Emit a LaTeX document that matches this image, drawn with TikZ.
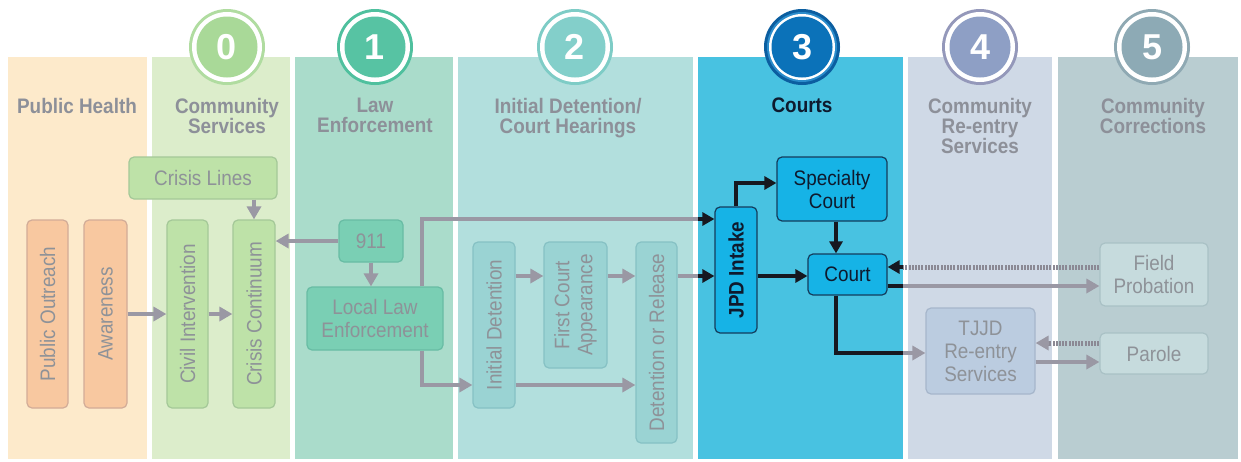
\documentclass[tikz,border=0pt]{standalone}
\usepackage{fontspec}
\setmainfont{Liberation Sans}[FakeStretch=0.9]
\newfontfamily\numfont{Liberation Sans}
\usetikzlibrary{arrows.meta,calc}
\definecolor{colPH}{HTML}{FDEACB}
\definecolor{colCS}{HTML}{DCEDCB}
\definecolor{colLE}{HTML}{AADCCB}
\definecolor{colID}{HTML}{B2DFDD}
\definecolor{colCT}{HTML}{48C2E1}
\definecolor{colRE}{HTML}{CFD9E6}
\definecolor{colCC}{HTML}{B9CDD1}
\definecolor{phfill}{HTML}{F8C8A0}
\definecolor{phdraw}{HTML}{D2AC98}
\definecolor{csfill}{HTML}{BEE2A8}
\definecolor{csdraw}{HTML}{A4C898}
\definecolor{lefill}{HTML}{7ACFB4}
\definecolor{ledraw}{HTML}{68BCA4}
\definecolor{idfill}{HTML}{9AD3D3}
\definecolor{iddraw}{HTML}{86C1C4}
\definecolor{ctfill}{HTML}{16B3E6}
\definecolor{ctdraw}{HTML}{143C5C}
\definecolor{refill}{HTML}{BBCCE0}
\definecolor{redraw}{HTML}{A6B6CB}
\definecolor{ccfill}{HTML}{C6DBDD}
\definecolor{ccdraw}{HTML}{A9C1C5}
\definecolor{txtgray}{HTML}{8E9298}
\definecolor{headgray}{HTML}{8D9099}
\definecolor{courtdark}{HTML}{0E1A2E}
\definecolor{arrgray}{HTML}{9A98A4}
\definecolor{arrblack}{HTML}{161820}
\definecolor{ring0}{HTML}{B0DCA0}\definecolor{in0}{HTML}{A9D998}
\definecolor{ring1}{HTML}{4FC09E}\definecolor{in1}{HTML}{57C3A3}
\definecolor{ring2}{HTML}{7ECCC6}\definecolor{in2}{HTML}{83CFCA}
\definecolor{ring3}{HTML}{0B5EA0}\definecolor{band3}{HTML}{2A8CCB}\definecolor{in3}{HTML}{0B72B9}
\definecolor{ring4}{HTML}{9498BA}\definecolor{in4}{HTML}{8E9FC5}
\definecolor{ring5}{HTML}{8FA9B3}\definecolor{in5}{HTML}{8DAAB5}
\newcommand\stagecirc[6]{%
  \fill[#2] (#1,47) circle[radius=38pt];
  \fill[#3] (#1,47) circle[radius=35pt];
  \fill[white] (#1,47) circle[radius=33pt];
  \fill[#4] (#1,47) circle[radius=30.5pt];
  \node[text=white, font=\numfont\bfseries\fontsize{36}{36}\selectfont, inner sep=0pt] (#6) at (#1,47) {#5};
}
\begin{document}
\begin{tikzpicture}[x=1pt,y=-1pt,
  box/.style={rounded corners=5pt, line width=1.2pt, inner sep=0pt, align=center,
    font=\fontsize{21}{23}\selectfont, text=txtgray},
  phbox/.style={box, fill=phfill, draw=phdraw},
  csbox/.style={box, fill=csfill, draw=csdraw},
  lebox/.style={box, fill=lefill, draw=ledraw},
  idbox/.style={box, fill=idfill, draw=iddraw},
  ctbox/.style={box, fill=ctfill, draw=ctdraw, text=courtdark},
  rebox/.style={box, fill=refill, draw=redraw},
  ccbox/.style={box, fill=ccfill, draw=ccdraw},
  vert/.style={rotate=90},
  head/.style={anchor=north, inner sep=0pt, align=center,
    font=\bfseries\fontsize{21}{20}\selectfont, text=headgray},
  gline/.style={draw=arrgray, line width=4.5pt},
  garrow/.style={gline, -{Triangle[length=13pt,width=14pt]}},
  bline/.style={draw=arrblack, line width=4pt},
  barrow/.style={bline, -{Triangle[length=12pt,width=13pt]}},
  dotl/.style={draw=arrgray!90!black, line width=5pt, dash pattern=on 2pt off 1.2pt}
]
\useasboundingbox (0,0) rectangle (1241,461);
\fill[white] (0,0) rectangle (1241,461);
% columns
\fill[colPH] (8,57) rectangle (147,459);
\fill[colCS] (152,57) rectangle (290,459);
\fill[colLE] (295,57) rectangle (453,459);
\fill[colID] (458,57) rectangle (693,459);
\fill[colCT] (698,57) rectangle (903,459);
\fill[colRE] (908,57) rectangle (1052,459);
\fill[colCC] (1058,57) rectangle (1238,459);
\coordinate (cL) at (698,0);
\coordinate (cR) at (903,0);
% circles
\stagecirc{227}{ring0}{white}{in0}{0}{c0}
\stagecirc{375}{ring1}{white}{in1}{1}{c1}
\stagecirc{575}{ring2}{white}{in2}{2}{c2}
\stagecirc{802}{ring3}{band3}{in3}{3}{c3}
\stagecirc{980}{ring4}{white}{in4}{4}{c4}
\stagecirc{1152}{ring5}{white}{in5}{5}{c5}
% headings
\node[head] (hPH) at (77,98) {Public Health};
\node[head] (hCS) at (227,98) {Community\\Services};
\node[head] (hLE) at (375,98) {Law\\Enforcement};
\node[head] (hID) at (568,98) {Initial Detention/\\Court Hearings};
\node[head, text=courtdark] (hCT) at (802,98) {Courts};
\node[head] (hRE) at (980,98) {Community\\Re-entry\\Services};
\node[head] (hCC) at (1153,98) {Community\\Corrections};
% boxes
\node[phbox, vert, minimum width=188pt, minimum height=41pt] (pubout) at (47.5,314) {Public Outreach};
\node[phbox, vert, minimum width=188pt, minimum height=43pt] (aware) at (105.5,314) {Awareness};
\node[csbox, vert, minimum width=188pt, minimum height=41pt] (civil) at (187.5,314) {Civil Intervention};
\node[csbox, vert, minimum width=188pt, minimum height=42pt] (crcont) at (254,314) {Crisis Continuum};
\node[csbox, minimum width=148pt, minimum height=42pt] (crlines) at (203,178) {Crisis Lines};
\node[lebox, minimum width=64pt, minimum height=42pt] (n911) at (371,241) {911};
\node[lebox, minimum width=136pt, minimum height=63pt] (lle) at (375,318.5) {Local Law\\Enforcement};
\node[idbox, vert, minimum width=166pt, minimum height=42pt] (initdet) at (494,325) {Initial Detention};
\node[idbox, vert, minimum width=126pt, minimum height=63pt] (firstc) at (575.5,305) {First Court\\Appearance};
\node[idbox, vert, minimum width=201pt, minimum height=41pt] (detrel) at (656.5,342.5) {Detention or Release};
\node[ctbox, vert, minimum width=126pt, minimum height=42pt, font=\bfseries\fontsize{21}{23}\selectfont] (jpd) at (736,270) {JPD Intake};
\node[ctbox, minimum width=110pt, minimum height=64pt] (spec) at (832,189) {Specialty\\Court};
\node[ctbox, minimum width=79pt, minimum height=41pt] (court) at (847.5,274.5) {Court};
\node[ccbox, minimum width=108pt, minimum height=63pt] (fieldp) at (1154,274.5) {Field\\Probation};
\node[rebox, minimum width=109pt, minimum height=86pt] (tjjd) at (980.5,351) {TJJD\\Re-entry\\Services};
\node[ccbox, minimum width=108pt, minimum height=41pt] (parole) at (1154,353.5) {Parole};
% connectors (grey)
\draw[garrow] (crlines.south -| crcont.east) -- (crcont.east);
\draw[garrow] (aware.south) -- (civil.north);
\draw[garrow] (civil.south) -- (crcont.north);
\draw[garrow] (n911.west) -- (n911.west -| crcont.south);
\draw[garrow] (n911.south) -- (n911.south |- lle.north);
\draw[gline] ([xshift=47pt]lle.north) |- (cL |- 0,219);
\draw[barrow] (cL |- 0,219) -- (jpd.north |- 0,219);
\draw[garrow] ([xshift=47pt]lle.south) |- (initdet.north |- 0,385);
\draw[garrow] (initdet.south |- 0,385) -- (detrel.north |- 0,385);
\draw[garrow] (initdet.south |- 0,276) -- (firstc.north |- 0,276);
\draw[garrow] (firstc.south |- 0,276) -- (detrel.north |- 0,276);
\draw[gline] (detrel.south |- 0,276) -- (cL |- 0,276);
\draw[barrow] (cL |- 0,276) -- (jpd.north |- 0,276);
% courts connectors
\draw[barrow] (jpd.east) |- ([yshift=6pt]spec.west);
\draw[barrow] (jpd.south |- 0,276) -- (court.west |- 0,276);
\draw[barrow] ([xshift=4pt]spec.south) -- ([xshift=4pt]spec.south |- court.north);
\draw[bline] ([xshift=-11.5pt]court.south) |- (cR |- 0,353);
\draw[garrow] (cR |- 0,353) -- (tjjd.west |- 0,353);
\draw[bline] (court.east |- 0,286) -- (cR |- 0,286);
\draw[garrow] (cR |- 0,286) -- (fieldp.west |- 0,286);
\draw[dotl] (fieldp.west |- 0,267) -- (cR |- 0,267);
\draw[barrow] (cR |- 0,267) -- (court.east |- 0,267);
\draw[dotl] (parole.west |- 0,343) -- ([xshift=12pt]tjjd.east |- 0,343);
\draw[garrow] ([xshift=13pt]tjjd.east |- 0,343) -- (tjjd.east |- 0,343);
\draw[garrow] (tjjd.east |- 0,362) -- (parole.west |- 0,362);
\end{tikzpicture}
\end{document}
